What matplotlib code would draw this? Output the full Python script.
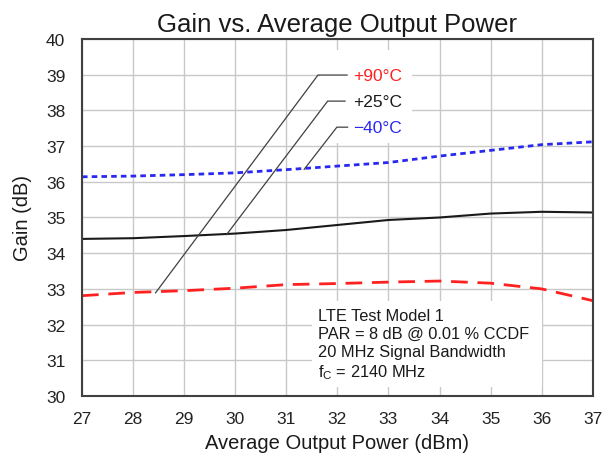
import matplotlib
matplotlib.use('Agg')
import matplotlib.pyplot as plt
from matplotlib.patches import Rectangle

plt.rcParams['font.family'] = ['Liberation Sans', 'DejaVu Sans']
plt.rcParams['mathtext.fontset'] = 'custom'
plt.rcParams['mathtext.rm'] = 'Liberation Sans'
plt.rcParams['mathtext.it'] = 'Liberation Sans'

# --- data ---
pout = [27, 28, 29, 30, 31, 32, 33, 34, 35, 36, 37]
gain_m40 = [36.14, 36.16, 36.20, 36.25, 36.34, 36.44, 36.54, 36.72, 36.88, 37.04, 37.12]
gain_25 = [34.40, 34.42, 34.48, 34.55, 34.65, 34.79, 34.93, 35.00, 35.11, 35.16, 35.14]
gain_90 = [32.81, 32.90, 32.95, 33.02, 33.12, 33.15, 33.19, 33.22, 33.16, 33.00, 32.67]

labels = ['+90°C', '+25°C', '\u221240°C']
label_colors = ['#FF2020', '#1a1a1a', '#2828F0']
# leader lines: (curve point x, y) -> (elbow x, y) -> (end x)
leader_start = [(28.44, 32.89), (29.83, 34.52), (31.35, 36.35)]
leader_elbow = [(31.62, 38.99), (31.81, 38.26), (31.99, 37.53)]
leader_end_x = [32.19, 32.15, 32.2]

note = ('LTE Test Model 1\nPAR = 8 dB @ 0.01 % CCDF\n'
        '20 MHz Signal Bandwidth\nf$_\\mathrm{C}$ = 2140 MHz')

fig = plt.figure(figsize=(6.03, 4.56), dpi=100)
ax = fig.add_axes([0.136, 0.1294, 0.847, 0.7829])

ax.set_xlim(27, 37)
ax.set_ylim(30, 40)
ax.set_xticks(range(27, 38))
ax.set_yticks(range(30, 41))
ax.set_axisbelow(True)
ax.grid(True, color='#c8c8c8', linewidth=1.0)
ax.tick_params(length=0, labelsize=12.5, colors='#222222')
ax.tick_params(axis='x', pad=11)
ax.tick_params(axis='y', pad=12)
for s in ax.spines.values():
    s.set_color('#404040')
    s.set_linewidth(1.5)

# white boxes behind the labels and the note
ax.add_patch(Rectangle((31.66, 37.1), 1.8, 2.6, facecolor='white',
                       edgecolor='none', zorder=1))
ax.add_patch(Rectangle((31.5, 30.25), 4.5, 2.4, facecolor='white',
                       edgecolor='none', zorder=1))

ax.plot(pout, gain_m40, color='#2828F0', linewidth=2, dashes=(2.0, 1.5), zorder=2)
ax.plot(pout, gain_25, color='#1a1a1a', linewidth=1.5, zorder=2)
ax.plot(pout, gain_90, color='#FF2020', linewidth=2, dashes=(6, 3.5), zorder=2)

for (x0, y0), (x1, y1), x2, lab, c in zip(leader_start, leader_elbow,
                                           leader_end_x, labels, label_colors):
    ax.plot([x0, x1, x2], [y0, y1, y1], color='#404040', linewidth=0.9, zorder=3)
    ax.text(32.3, y1, lab, color=c, fontsize=12.5, va='center', ha='left', zorder=4)

ax.text(31.63, 32.47, note, fontsize=11.8, va='top', ha='left',
        linespacing=1.25, color='#1a1a1a', zorder=4)

ax.set_title('Gain vs. Average Output Power', fontsize=18.5, pad=6, color='#1a1a1a')
ax.set_xlabel('Average Output Power (dBm)', fontsize=14.5, labelpad=5, color='#1a1a1a')
ax.set_ylabel('Gain (dB)', fontsize=14.5, labelpad=10, color='#1a1a1a')

fig.savefig('out.png', dpi=100)
